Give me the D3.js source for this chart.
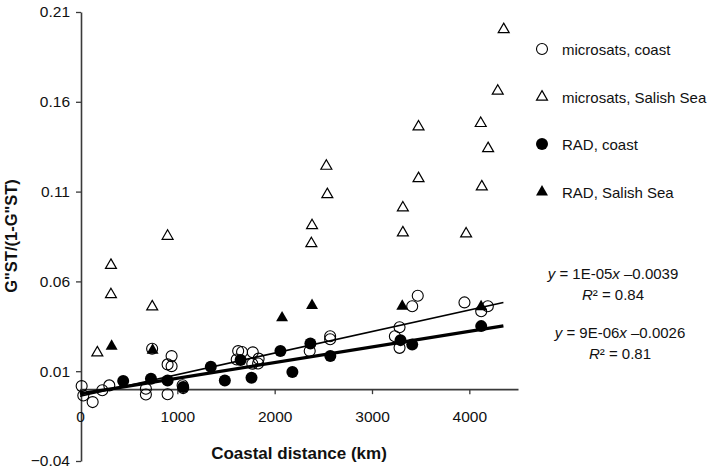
<!DOCTYPE html>
<html><head><meta charset="utf-8">
<script src="https://cdn.jsdelivr.net/npm/d3@7/dist/d3.min.js"></script>
<style>
html,body{margin:0;padding:0;background:#fff;}
svg{display:block;font-family:"Liberation Sans",Arial,sans-serif;}
</style></head>
<body>
<svg id="chart" width="709" height="472"></svg>
<script>
// ---- data ----
const msCoastX = [17,34,130,229,301,677,677,741,900,900,941,941,1054,1060,1610,1625,1665,1775,1770,1835,1830,2360,2570,2570,3283,3235,3283,3413,3470,3950,4190,4122];
const msCoastY = [0.0017,-0.0035,-0.0072,-0.0006,0.0021,0.0002,-0.003,0.0225,-0.0028,0.0138,0.0128,0.0184,0.0022,0.0006,0.0165,0.0212,0.0207,0.0205,0.0142,0.017,0.0143,0.0212,0.0295,0.0278,0.0345,0.0295,0.023,0.0462,0.052,0.0483,0.0462,0.0434];
const msSalishX = [178,318,318,742,900,2377,2384,2531,2541,3317,3317,3478,3478,3967,4117,4128,4193,4292,4353];
const msSalishY = [0.0203,0.069,0.0527,0.0459,0.0852,0.0811,0.0911,0.1242,0.1084,0.101,0.0871,0.1461,0.1173,0.0865,0.148,0.1127,0.134,0.166,0.2003];
const radCoastX = [444,729,900,1060,1344,1488,1650,1762,2059,2182,2367,2572,3293,3413,4122];
const radCoastY = [0.0045,0.0058,0.0048,0.0012,0.0125,0.0048,0.0162,0.0063,0.0212,0.0095,0.0254,0.0184,0.0273,0.0249,0.0351];
const radSalishX = [325,746,2076,2384,3311,4121];
const radSalishY = [0.0239,0.0217,0.0397,0.0466,0.0462,0.0459];
const trendSlopes = [1.2e-5, 8.7e-6];
const trendIntercepts = [-0.0039, -0.0026];
const trendXRange = [0, 4350];
const xTicks = [0,1000,2000,3000,4000];
const yTicks = [-0.04,0.01,0.06,0.11,0.16,0.21];
const yTickLabels = ["\u22120.04","0.01","0.06","0.11","0.16","0.21"];
const legendLabels = ["microsats, coast","microsats, Salish Sea","RAD, coast","RAD, Salish Sea"];

// ---- layout ----
const svg = d3.select("#chart");
const x = d3.scaleLinear().domain([0,4500]).range([80,518]);
const y = d3.scaleLinear().domain([-0.04,0.21]).range([461,12]);
const axisColor = "#3a3a3a";

// y axis
const yAxis = svg.append("g").attr("transform","translate(81,0)")
  .call(d3.axisLeft(y).tickValues(yTicks).tickFormat((d,i)=>yTickLabels[i]).tickSizeInner(5).tickSizeOuter(0).tickPadding(6));
// x axis at y=0
const xAxis = svg.append("g").attr("transform",`translate(0,${y(0)})`)
  .call(d3.axisBottom(x).tickValues(xTicks).tickFormat(d3.format("d")).tickSizeInner(5).tickSizeOuter(0).tickPadding(17));
[xAxis,yAxis].forEach(g=>{
  g.selectAll("path.domain").attr("stroke",axisColor).attr("stroke-width",1.6);
  g.selectAll(".tick line").attr("stroke",axisColor).attr("stroke-width",1.3);
  g.selectAll("text").attr("fill","#111").style("font-size","15.5px").style("font-family","'Liberation Sans',Arial,sans-serif");
});

// titles
svg.append("text").attr("x",299).attr("y",459).attr("text-anchor","middle")
  .style("font-size","17px").style("font-weight","bold").attr("fill","#111").text("Coastal distance (km)");
svg.append("text").attr("transform","translate(17,236) rotate(-90)").attr("text-anchor","middle")
  .style("font-size","16.5px").style("font-weight","bold").attr("fill","#111").text("G\"ST/(1-G\"ST)");

// trend lines
const trendWidths = [1.6, 3.2];
trendSlopes.forEach((m,i)=>{
  const pts = trendXRange.map(xv=>[xv, m*xv + trendIntercepts[i]]);
  svg.append("path").datum(pts)
    .attr("d", d3.line().x(d=>x(d[0])).y(d=>y(d[1])))
    .attr("fill","none").attr("stroke","#000").attr("stroke-width",trendWidths[i]);
});

const triOpen = d3.symbol(d3.symbolTriangle, 52);
const triFill = d3.symbol(d3.symbolTriangle, 62);
const toPts = (xs,ys)=>xs.map((v,i)=>[v,ys[i]]);

// microsats coast: open circles
svg.append("g").selectAll("circle").data(toPts(msCoastX,msCoastY)).join("circle")
  .attr("cx",d=>x(d[0])).attr("cy",d=>y(d[1])).attr("r",5.5)
  .attr("fill","none").attr("stroke","#000").attr("stroke-width",1.1);
// microsats Salish: open triangles
svg.append("g").selectAll("path").data(toPts(msSalishX,msSalishY)).join("path")
  .attr("d",triOpen).attr("transform",d=>`translate(${x(d[0])},${y(d[1])})`)
  .attr("fill","none").attr("stroke","#000").attr("stroke-width",1.2);
// RAD coast: filled circles
svg.append("g").selectAll("circle").data(toPts(radCoastX,radCoastY)).join("circle")
  .attr("cx",d=>x(d[0])).attr("cy",d=>y(d[1])).attr("r",6).attr("fill","#000");
// RAD Salish: filled triangles
svg.append("g").selectAll("path").data(toPts(radSalishX,radSalishY)).join("path")
  .attr("d",triFill).attr("transform",d=>`translate(${x(d[0])},${y(d[1])})`).attr("fill","#000");

// legend
const legY = [49,97,144,192];
const leg = svg.append("g");
legendLabels.forEach((lab,i)=>{
  const cx = 542, cy = legY[i];
  if(i===0) leg.append("circle").attr("cx",cx).attr("cy",cy).attr("r",5.5).attr("fill","none").attr("stroke","#000").attr("stroke-width",1.1);
  if(i===1) leg.append("path").attr("d",triOpen).attr("transform",`translate(${cx},${cy})`).attr("fill","none").attr("stroke","#000").attr("stroke-width",1.2);
  if(i===2) leg.append("circle").attr("cx",cx).attr("cy",cy).attr("r",6).attr("fill","#000");
  if(i===3) leg.append("path").attr("d",triFill).attr("transform",`translate(${cx},${cy})`).attr("fill","#000");
  leg.append("text").attr("x",562).attr("y",cy+5.5).style("font-size","15px").attr("fill","#111").text(lab);
});

// equations
function eq(cx, by, slope, icpt, r2){
  const t = svg.append("text").attr("x",cx).attr("y",by).attr("text-anchor","middle").style("font-size","15px").attr("fill","#111");
  t.append("tspan").style("font-style","italic").text("y");
  t.append("tspan").text(" = " + slope);
  t.append("tspan").style("font-style","italic").text("x");
  t.append("tspan").text(" \u2013" + icpt);
  const t2 = svg.append("text").attr("x",cx).attr("y",by+21).attr("text-anchor","middle").style("font-size","15px").attr("fill","#111");
  t2.append("tspan").style("font-style","italic").text("R");
  t2.append("tspan").text("\u00B2 = " + r2);
}
eq(613, 279, "1E-05", "0.0039", "0.84");
eq(620, 338, "9E-06", "0.0026", "0.81");
</script>
</body></html>
